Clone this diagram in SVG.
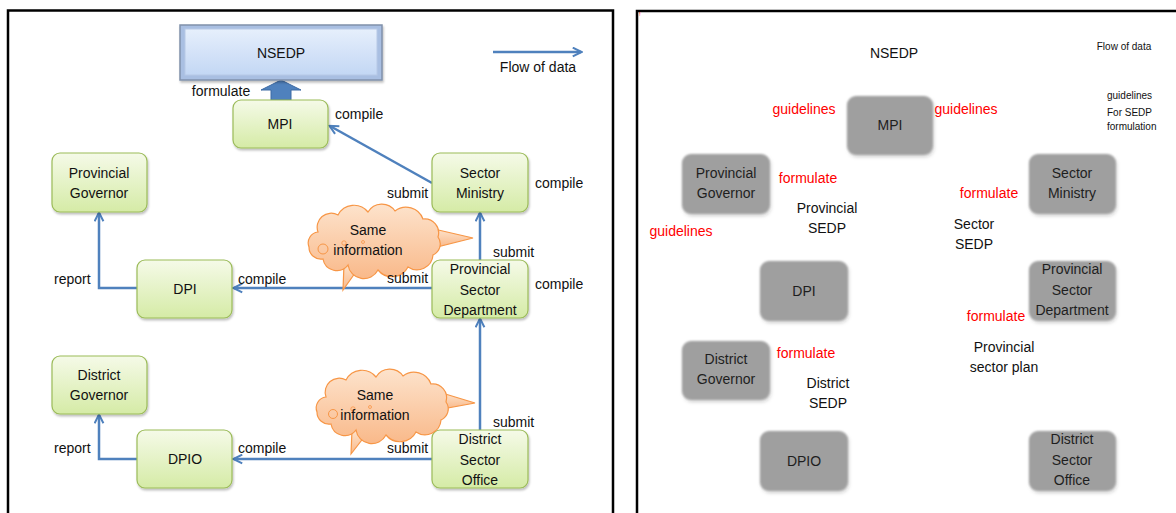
<svg xmlns="http://www.w3.org/2000/svg" width="1176" height="513" viewBox="0 0 1176 513">
<defs>
<linearGradient id="gGreen" x1="0" y1="0" x2="0" y2="1">
<stop offset="0" stop-color="#f5fae8"/>
<stop offset="1" stop-color="#d5eba6"/>
</linearGradient>
<linearGradient id="gBlue" x1="0" y1="0" x2="0" y2="1">
<stop offset="0" stop-color="#e6effc"/>
<stop offset="1" stop-color="#c3d7f4"/>
</linearGradient>
<linearGradient id="gCloud" x1="0" y1="0" x2="0" y2="1">
<stop offset="0" stop-color="#fde3cc"/>
<stop offset="1" stop-color="#f9b98a"/>
</linearGradient>
<filter id="shadow" x="-10%" y="-10%" width="130%" height="130%">
<feDropShadow dx="1" dy="2" stdDeviation="1.2" flood-color="#000" flood-opacity="0.25"/>
</filter>
<filter id="soft" x="-15%" y="-15%" width="130%" height="130%">
<feGaussianBlur in="SourceGraphic" stdDeviation="1.2" result="b"/>
<feDropShadow dx="1" dy="2" stdDeviation="1.5" flood-color="#000" flood-opacity="0.2"/>
</filter>
<marker id="open" viewBox="0 0 10 10" refX="8.5" refY="5" markerWidth="11" markerHeight="11" markerUnits="userSpaceOnUse" orient="auto">
<path d="M1,1 L9,5 L1,9" fill="none" stroke="#4f81bd" stroke-width="1.8"/>
</marker>
<path id="cloud" d="M15,25 A14,14 0 0 1 35,8 A18,18 0 0 1 65,5 A16,16 0 0 1 92,4 A18,18 0 0 1 120,12 A14,14 0 0 1 135,30 A12,12 0 0 1 130,48 A16,16 0 0 1 105,60 A18,18 0 0 1 75,63 A16,16 0 0 1 45,58 A14,14 0 0 1 20,52 A12,12 0 0 1 6,40 A11,11 0 0 1 15,25 Z"/>
</defs>
<style>
text{font-family:"Liberation Sans",Arial,sans-serif;font-size:14px;fill:#111;}
.c{text-anchor:middle;dominant-baseline:central;}
.l{dominant-baseline:central;}
.red{fill:#ff0000;}
.small{font-size:10px;}
.gn{fill:url(#gGreen);stroke:#9bbb59;stroke-width:1.2;filter:url(#shadow);}
.gy{fill:#9f9f9f;filter:url(#soft);}
.gt{fill:#1e1e1e;}
.conn{fill:none;stroke:#4f81bd;stroke-width:2.5;marker-end:url(#open);}
.cl{fill:url(#gCloud);stroke:#f79646;stroke-width:1.2;}
.frame{fill:none;stroke:#000;stroke-width:2.5;}
</style>
<rect width="1176" height="513" fill="#fff"/>

<!-- frames -->
<path class="frame" d="M8,514 V10.5 H613 V514"/>
<path class="frame" d="M637,514 V11 H1180"/>
<text x="639" y="16" style="font-size:6px;fill:#ff0000;">!</text>

<!-- LEFT PANEL -->
<g id="connectors">
<path class="conn" d="M432,183 L330,126"/>
<path class="conn" d="M480,260 V213"/>
<path class="conn" d="M432,288 H234"/>
<path class="conn" d="M137,288 H99 V213"/>
<path class="conn" d="M480,430 V319"/>
<path class="conn" d="M432,459 H234"/>
<path class="conn" d="M137,459 H99 V415"/>
<path class="conn" d="M493,52 H581"/>
<path d="M271,100 V90 H261 L281,80 L301,90 H291 V100 Z" fill="#4f81bd" stroke="#3c6aa4" stroke-width="1"/>
</g>

<g id="legend">
<text class="c" x="538" y="67">Flow of data</text>
</g>

<g id="nsedp">
<rect x="180" y="25" width="202" height="55" fill="#a9bfe2" stroke="#8091ab" stroke-width="1.5" filter="url(#shadow)"/>
<rect x="185" y="29" width="192" height="46" fill="url(#gBlue)" stroke="#b7c9e6" stroke-width="1"/>
<text class="c" x="281" y="53">NSEDP</text>
</g>

<g id="mpi">
<rect class="gn" x="233" y="100" width="95" height="48" rx="8"/>
<text class="c" x="280" y="124">MPI</text>
</g>
<g id="provincial-governor">
<rect class="gn" x="52" y="153" width="95" height="59" rx="8"/>
<text class="c" x="99" y="173">Provincial</text>
<text class="c" x="99" y="193">Governor</text>
</g>
<g id="sector-ministry">
<rect class="gn" x="432" y="153" width="96" height="59" rx="8"/>
<text class="c" x="480" y="173">Sector</text>
<text class="c" x="480" y="193">Ministry</text>
</g>
<g id="dpi">
<rect class="gn" x="137" y="260" width="95" height="58" rx="8"/>
<text class="c" x="185" y="289">DPI</text>
</g>
<g id="provincial-sector-department">
<rect class="gn" x="432" y="260" width="96" height="58" rx="8"/>
<text class="c" x="480" y="269">Provincial</text>
<text class="c" x="480" y="290">Sector</text>
<text class="c" x="480" y="310">Department</text>
</g>
<g id="district-governor">
<rect class="gn" x="52" y="356" width="95" height="58" rx="8"/>
<text class="c" x="99" y="375">District</text>
<text class="c" x="99" y="395">Governor</text>
</g>
<g id="dpio">
<rect class="gn" x="137" y="430" width="95" height="58" rx="8"/>
<text class="c" x="185" y="459">DPIO</text>
</g>
<g id="district-sector-office">
<rect class="gn" x="432" y="430" width="96" height="58" rx="8"/>
<text class="c" x="480" y="439">District</text>
<text class="c" x="480" y="460">Sector</text>
<text class="c" x="480" y="480">Office</text>
</g>

<g id="cloud1">
<polygon class="cl" points="434,229 473,238 437,247"/>
<polygon class="cl" points="344,264 343,290 360,266"/>
<use href="#cloud" class="cl" transform="translate(303,207)"/>
<circle cx="323" cy="249" r="5" fill="none" stroke="#f79646" stroke-width="1"/>
<circle cx="344" cy="243" r="2.2" fill="none" stroke="#f79646" stroke-width="0.8"/>
<circle cx="363" cy="242" r="1.5" fill="none" stroke="#f79646" stroke-width="0.8"/>
<text class="c" x="368" y="230">Same</text>
<text class="c" x="368" y="250">information</text>
</g>
<g id="cloud2">
<polygon class="cl" points="442,393 475,403 442,409"/>
<polygon class="cl" points="352,430 351,454 368,432"/>
<use href="#cloud" class="cl" transform="translate(311,372)"/>
<circle cx="333" cy="414" r="4.5" fill="none" stroke="#f79646" stroke-width="1"/>
<circle cx="353" cy="409" r="2.2" fill="none" stroke="#f79646" stroke-width="0.8"/>
<circle cx="370" cy="407" r="1.5" fill="none" stroke="#f79646" stroke-width="0.8"/>
<text class="c" x="375" y="395">Same</text>
<text class="c" x="375" y="415">information</text>
</g>

<g id="labels-left">
<text class="c" x="221" y="91">formulate</text>
<text class="l" x="335" y="114">compile</text>
<text class="l" x="387" y="193">submit</text>
<text class="l" x="535" y="183">compile</text>
<text class="l" x="493" y="252">submit</text>
<text class="l" x="387" y="278">submit</text>
<text class="l" x="238" y="279">compile</text>
<text class="l" x="535" y="284">compile</text>
<text class="l" x="54" y="279">report</text>
<text class="l" x="493" y="422">submit</text>
<text class="l" x="387" y="448">submit</text>
<text class="l" x="238" y="448">compile</text>
<text class="l" x="54" y="448">report</text>
</g>

<!-- RIGHT PANEL -->
<g id="r-mpi">
<rect class="gy" x="847" y="96" width="86" height="59" rx="9"/>
<text class="c gt" x="890" y="125">MPI</text>
</g>
<g id="r-provincial-governor">
<rect class="gy" x="682" y="154" width="88" height="60" rx="9"/>
<text class="c gt" x="726" y="173">Provincial</text>
<text class="c gt" x="726" y="193">Governor</text>
</g>
<g id="r-sector-ministry">
<rect class="gy" x="1029" y="154" width="87" height="60" rx="9"/>
<text class="c gt" x="1072" y="173">Sector</text>
<text class="c gt" x="1072" y="193">Ministry</text>
</g>
<g id="r-dpi">
<rect class="gy" x="760" y="261" width="88" height="60" rx="9"/>
<text class="c gt" x="804" y="291">DPI</text>
</g>
<g id="r-provincial-sector-department">
<rect class="gy" x="1029" y="261" width="87" height="60" rx="9"/>
<text class="c gt" x="1072" y="269">Provincial</text>
<text class="c gt" x="1072" y="290">Sector</text>
<text class="c gt" x="1072" y="310">Department</text>
</g>
<g id="r-district-governor">
<rect class="gy" x="682" y="341" width="88" height="59" rx="9"/>
<text class="c gt" x="726" y="359">District</text>
<text class="c gt" x="726" y="379">Governor</text>
</g>
<g id="r-dpio">
<rect class="gy" x="760" y="431" width="88" height="60" rx="9"/>
<text class="c gt" x="804" y="461">DPIO</text>
</g>
<g id="r-district-sector-office">
<rect class="gy" x="1029" y="431" width="87" height="60" rx="9"/>
<text class="c gt" x="1072" y="439">District</text>
<text class="c gt" x="1072" y="460">Sector</text>
<text class="c gt" x="1072" y="480">Office</text>
</g>

<g id="labels-right">
<text class="c" x="894" y="53">NSEDP</text>
<text class="c small" x="1124" y="46">Flow of data</text>
<text class="l small" x="1107" y="95">guidelines</text>
<text class="l small" x="1107" y="112">For SEDP</text>
<text class="l small" x="1107" y="126">formulation</text>
<text class="c red" x="804" y="109">guidelines</text>
<text class="c red" x="966" y="109">guidelines</text>
<text class="c red" x="808" y="178">formulate</text>
<text class="c" x="827" y="208">Provincial</text>
<text class="c" x="827" y="228">SEDP</text>
<text class="c red" x="989" y="193">formulate</text>
<text class="c" x="974" y="224">Sector</text>
<text class="c" x="974" y="244">SEDP</text>
<text class="c red" x="681" y="231">guidelines</text>
<text class="c red" x="996" y="316">formulate</text>
<text class="c" x="1004" y="347">Provincial</text>
<text class="c" x="1004" y="367">sector plan</text>
<text class="c red" x="806" y="353">formulate</text>
<text class="c" x="828" y="383">District</text>
<text class="c" x="828" y="403">SEDP</text>
</g>
</svg>
